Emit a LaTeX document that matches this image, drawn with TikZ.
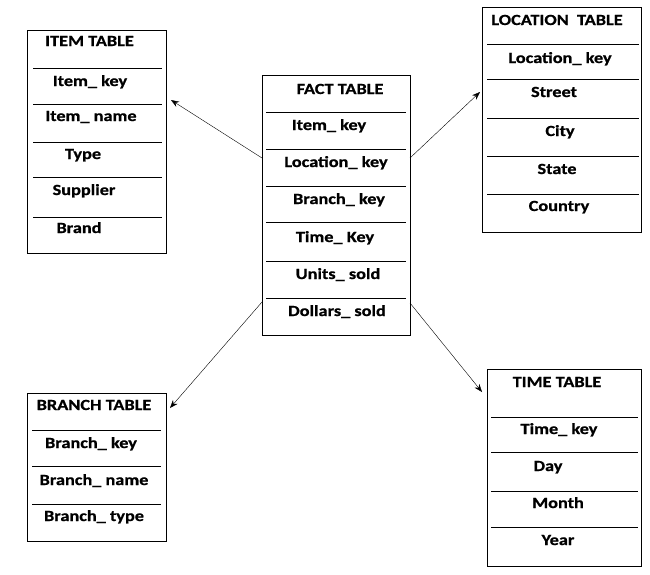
\documentclass[tikz,border=0pt]{standalone}
\usepackage{fontspec}
\usetikzlibrary{arrows.meta,calc}
\newfontfamily\tblfont{Carlito}[FakeStretch=1.18,BoldFeatures={FakeBold=0.8}]

\begin{document}
\begin{tikzpicture}[x=1pt,y=-1pt,->,>={Stealth[length=8pt,width=6pt]},
      tbl/.style={draw,-,line width=0.8pt,inner sep=0pt,outer sep=0pt},
      fld/.style={font=\tblfont\bfseries\fontsize{15.5}{18}\selectfont,
        inner sep=0pt,anchor=base},
      sep/.style={-,line width=0.8pt}]
      \useasboundingbox (0,0) rectangle (650,574);

      % table frames
      \node[tbl,minimum width=139pt,minimum height=223pt] (item) at (96.5,141.5) {};
      \node[tbl,minimum width=148pt,minimum height=260pt] (fact) at (336,205) {};
      \node[tbl,minimum width=159pt,minimum height=225pt] (location) at (561.5,119.5) {};
      \node[tbl,minimum width=139pt,minimum height=148pt] (branch) at (96.5,467) {};
      \node[tbl,minimum width=154pt,minimum height=197pt] (time) at (564,467.5) {};

      % fields
      \foreach \x/\y/\txt [count=\i] in {89.5/46/ITEM TABLE, 90/86/Item\_ key,
          91/121/Item\_ name, 83/159/Type, 84/195/Supplier, 79/233/Brand}
        \node[fld] (item-\i) at (\x,\y) {\txt};
      \foreach \x/\y/\txt [count=\i] in {340/94/FACT TABLE, 329/130/Item\_ key,
          336/167/Location\_ key, 339/204/Branch\_ key, 335/242/Time\_ Key,
          338/279/Units\_ sold, 337/316/Dollars\_ sold}
        \node[fld] (fact-\i) at (\x,\y) {\txt};
      \foreach \x/\y/\txt [count=\i] in {557/25/LOCATION\ \ TABLE, 560/63/Location\_ key,
          554/97/Street, 560/136/City, 557/174/State, 559/211/Country}
        \node[fld] (location-\i) at (\x,\y) {\txt};
      \foreach \x/\y/\txt [count=\i] in {94/410/BRANCH TABLE, 91/448/Branch\_ key,
          94/485/Branch\_ name, 94/521/Branch\_ type}
        \node[fld] (branch-\i) at (\x,\y) {\txt};
      \foreach \x/\y/\txt [count=\i] in {557/387/TIME TABLE, 559/434/Time\_ key,
          548/471/Day, 558/508/Month, 558/545/Year}
        \node[fld] (time-\i) at (\x,\y) {\txt};

      % separators
      \foreach \y in {68,104,142,177,217} \draw[sep] (33,\y) -- (162,\y);
      \foreach \y in {112,149,186,222,261,298} \draw[sep] (266,\y) -- (406,\y);
      \foreach \y in {44,79,118,156,194} \draw[sep] (487,\y) -- (639,\y);
      \foreach \y in {430,466,504} \draw[sep] (32,\y) -- (161,\y);
      \foreach \y in {417,452,491,527} \draw[sep] (491,\y) -- (638,\y);

      % links
      \draw ($(fact.west)+(0,-47)$) -- ($(item.east)+(5,-41.5)$);
      \draw ($(fact.east)+(0,-47)$) -- ($(location.west)+(-2,-27.5)$);
      \draw ($(fact.west)+(0,97)$) -- ($(branch.east)+(4,-59)$);
      \draw ($(fact.east)+(0,98)$) -- ($(time.west)+(-5,-75.5)$);
\end{tikzpicture}
\end{document}
